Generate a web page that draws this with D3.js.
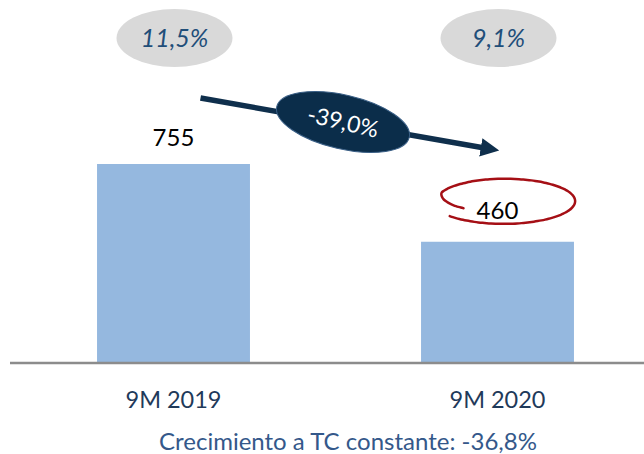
<!DOCTYPE html>
<html>
<head>
<meta charset="utf-8">
<script src="https://cdn.jsdelivr.net/npm/d3@7"></script>
<style>
html,body{margin:0;padding:0;background:#fff;}
svg{display:block;font-family:Lato,"Open Sans",sans-serif;}
</style>
</head>
<body>
<svg id="chart" width="644" height="454"></svg>
<script>
const categories = ["9M 2019", "9M 2020"];
const values = [755, 460];
const marginLabels = ["11,5%", "9,1%"];
const changeLabel = "-39,0%";
const footerText = "Crecimiento a TC constante: -36,8%";

const svg = d3.select("#chart");

const x = d3.scaleBand().domain(categories).range([11.5, 659.5])
  .paddingInner(0.528).paddingOuter(0.264);
const y = d3.scaleLinear().domain([0, 755]).range([363, 164]);
const cx = c => x(c) + x.bandwidth() / 2;
const labelGap = [18, 23];

// bars
svg.selectAll("rect.bar").data(values).join("rect")
  .attr("class", "bar")
  .attr("x", (d, i) => x(categories[i]))
  .attr("width", x.bandwidth())
  .attr("y", d => y(d))
  .attr("height", d => y(0) - y(d))
  .attr("fill", "#95b8df");

// axis line
const axis = d3.axisBottom(x).tickSize(0).tickPadding(0).tickFormat("");
const ax = svg.append("g").attr("transform", `translate(0,${y(0)})`).call(axis);
ax.select(".domain").attr("d", "M10,0H644").attr("stroke", "#8c8c8c").attr("stroke-width", 2.5);

// category labels
svg.selectAll("text.cat").data(categories).join("text")
  .attr("class", "cat")
  .attr("x", d => cx(d))
  .attr("y", 408)
  .attr("text-anchor", "middle")
  .attr("font-size", 23.5)
  .attr("fill", "#1f3a5a")
  .text(d => d);

// value labels
svg.selectAll("text.val").data(values).join("text")
  .attr("class", "val")
  .attr("x", (d, i) => cx(categories[i]))
  .attr("y", (d, i) => y(d) - labelGap[i])
  .attr("text-anchor", "middle")
  .attr("font-size", 24)
  .attr("fill", "#000")
  .text(d => d);

// top gray ellipses with margin labels
const tops = svg.selectAll("g.top").data(marginLabels).join("g")
  .attr("class", "top")
  .attr("transform", (d, i) => `translate(${cx(categories[i]) + 1},38)`);
tops.append("ellipse").attr("rx", 58).attr("ry", 29).attr("fill", "#d9d9d9");
tops.append("text").attr("y", 9).attr("text-anchor", "middle")
  .attr("font-size", 25).attr("font-style", "italic").attr("fill", "#1f4e79")
  .text(d => d);

// arrow
const navy = "#0f2f4c";
svg.append("defs").append("marker")
  .attr("id", "ah").attr("viewBox", "0 0 10 10").attr("refX", 2).attr("refY", 5)
  .attr("markerWidth", 3.4).attr("markerHeight", 3.4).attr("orient", "auto")
  .append("path").attr("d", "M0,0L10,5L0,10z").attr("fill", navy);
svg.append("line")
  .attr("x1", cx(categories[0]) + 27).attr("y1", 98)
  .attr("x2", cx(categories[1]) - 13).attr("y2", 148)
  .attr("stroke", navy).attr("stroke-width", 5.5)
  .attr("marker-end", "url(#ah)");

const mid = svg.append("g").attr("transform", "translate(343,122) rotate(13)");
mid.append("ellipse").attr("rx", 68).attr("ry", 27).attr("fill", "#0b2d4a")
  .attr("stroke", "#3a5f86").attr("stroke-width", 1);
mid.append("text").attr("y", 8).attr("text-anchor", "middle")
  .attr("font-size", 23).attr("fill", "#fff").text(changeLabel);

// red hand-drawn circle around 460
const rc = { x: 505, y: 200 };
const pts = [];
for (let t = 0; t <= 1.0001; t += 0.01) {
  const a = (212 - t * 352) * Math.PI / 180;
  const s = t < 0.15 ? 0.72 + 0.28 * (t / 0.15) : 1 + 0.06 * (t - 0.15) / 0.85;
  pts.push([rc.x + 68 * s * Math.cos(a), rc.y - 21.5 * s * Math.sin(a) + 1.5 * t]);
}
svg.append("path")
  .attr("d", d3.line().curve(d3.curveBasis)(pts))
  .attr("fill", "none").attr("stroke", "#a50f15").attr("stroke-width", 2.5)
  .attr("stroke-linecap", "round");

// footer
svg.append("text").attr("x", 348).attr("y", 450).attr("text-anchor", "middle")
  .attr("font-size", 24).attr("fill", "#34588a").text(footerText);
</script>
</body>
</html>
